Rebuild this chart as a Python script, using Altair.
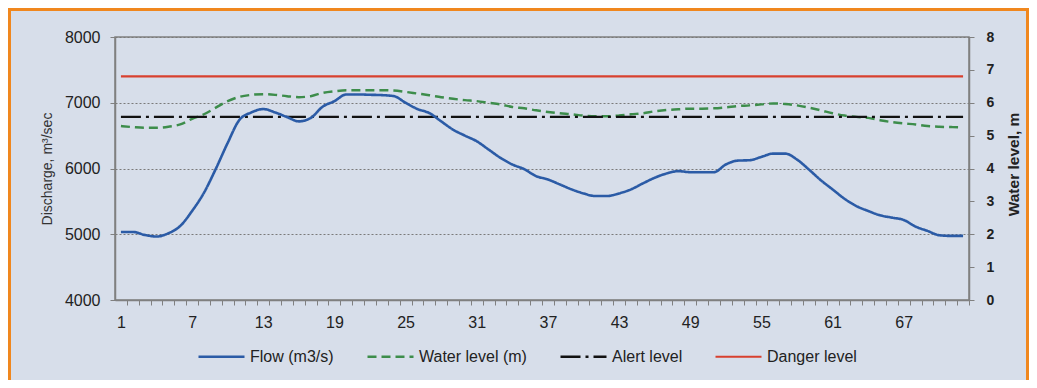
import altair as alt
import pandas as pd

# ---------------- data ----------------
DAYS = list(range(1, 73))
FLOW = [5035, 5035, 4990, 4965, 5015, 5126, 5354, 5631, 5995, 6389,
        6742, 6853, 6904, 6853, 6783, 6717, 6768, 6939, 7025, 7126,
        7126, 7121, 7116, 7101, 7000, 6904, 6843, 6717, 6591, 6500,
        6414, 6288, 6162, 6061, 5990, 5884, 5833, 5758, 5682, 5621,
        5581, 5581, 5621, 5682, 5773, 5859, 5924, 5960, 5944, 5944,
        5944, 6061, 6120, 6126, 6177, 6227, 6227, 6136, 5985, 5823,
        5682, 5540, 5429, 5354, 5288, 5253, 5217, 5116, 5051, 4985,
        4975, 4975]
WATER = [5.29, 5.26, 5.24, 5.24, 5.27, 5.34, 5.51, 5.65, 5.85, 6.05,
         6.18, 6.24, 6.26, 6.24, 6.20, 6.17, 6.20, 6.30, 6.35, 6.38,
         6.38, 6.38, 6.38, 6.37, 6.33, 6.28, 6.23, 6.17, 6.12, 6.08,
         6.05, 6.00, 5.95, 5.87, 5.83, 5.77, 5.72, 5.68, 5.65, 5.61,
         5.59, 5.59, 5.61, 5.65, 5.68, 5.74, 5.78, 5.80, 5.82, 5.82,
         5.83, 5.86, 5.90, 5.92, 5.95, 5.98, 5.96, 5.92, 5.85, 5.77,
         5.68, 5.61, 5.57, 5.54, 5.47, 5.41, 5.37, 5.34, 5.29, 5.27,
         5.26, 5.25]
ALERT_LEVEL = 5.57
DANGER_LEVEL = 6.8

SERIES = ["Flow (m3/s)", "Water level (m)", "Alert level", "Danger level"]
X_LABELS = list(range(1, 73, 6))
Y_LEFT_TICKS = [4000, 5000, 6000, 7000, 8000]
Y_RIGHT_TICKS = list(range(0, 9))

# ---------------- styles ----------------
COLORS = ["#2b5ba6", "#3d8d4b", "#111111", "#d8402f"]
DASHES = [[1, 0], [9, 5], [20, 5, 3, 5], [1, 0]]
WIDTHS = [2.6, 2.2, 3, 2.5]
FONT = "Liberation Sans"
BG = "#D7DEEA"
W, H = 854, 263
PAD = {"left": 107, "top": 29, "right": 60, "bottom": 80}
HALF = W / len(DAYS) / 2

flow_df = pd.DataFrame({"day": DAYS, "value": FLOW, "series": SERIES[0]})
level_df = pd.concat([
    pd.DataFrame({"day": DAYS, "value": WATER, "series": SERIES[1]}),
    pd.DataFrame({"day": [DAYS[0], DAYS[-1]], "value": [ALERT_LEVEL] * 2, "series": SERIES[2]}),
    pd.DataFrame({"day": [DAYS[0], DAYS[-1]], "value": [DANGER_LEVEL] * 2, "series": SERIES[3]}),
], ignore_index=True)

legend = alt.Legend(
    title=None, orient="none", legendX=82, legendY=295, direction="horizontal",
    symbolType="stroke", symbolSize=2116, symbolStrokeWidth=2.5,
    labelFont=FONT, labelFontSize=16, labelColor="#222222", columnPadding=28,
    labelLimit=300,
)
color = alt.Color("series:N", scale=alt.Scale(domain=SERIES, range=COLORS), legend=legend)
dash = alt.StrokeDash("series:N", scale=alt.Scale(domain=SERIES, range=DASHES), legend=legend)
width = alt.StrokeWidth("series:N", scale=alt.Scale(domain=SERIES, range=WIDTHS), legend=None)

x = alt.X(
    "day:Q",
    scale=alt.Scale(domain=[0.5, 72.5], nice=False, zero=False),
    axis=alt.Axis(
        values=DAYS, tickOffset=HALF, labelOffset=-HALF,
        labelExpr="indexof(" + str(X_LABELS) + ", datum.value) >= 0 ? datum.label : ''",
        labelOverlap=False, labelFlush=False, title=None, grid=False,
        tickSize=5, tickColor="#808080", labelPadding=9, labelFont=FONT,
        labelFontSize=16, labelColor="#222222", domainColor="#808080", domainWidth=1.5,
    ),
)

level_layer = alt.Chart(level_df).mark_line(interpolate="monotone").encode(
    x=x,
    y=alt.Y(
        "value:Q",
        scale=alt.Scale(domain=[0, 8], nice=False, zero=False),
        axis=alt.Axis(
            orient="right", values=Y_RIGHT_TICKS, format="d", grid=False,
            tickSize=5, tickColor="#808080", labelPadding=12, labelFont=FONT,
            labelFontSize=14, labelFontWeight="bold", labelColor="#222222",
            domainColor="#808080", domainWidth=1.5,
            title="Water level, m", titleFont=FONT, titleFontSize=15.5,
            titleFontWeight="bold", titleColor="#222222", titleAngle=270,
            titleX=44, titleY=127, titleAlign="center", titleBaseline="middle",
        ),
    ),
    color=color, strokeDash=dash, strokeWidth=width,
    order=alt.Order("day:Q"),
)

flow_layer = alt.Chart(flow_df).mark_line(interpolate="monotone").encode(
    x=x,
    y=alt.Y(
        "value:Q",
        scale=alt.Scale(domain=[4000, 8000], nice=False, zero=False),
        axis=alt.Axis(
            orient="left", values=Y_LEFT_TICKS, format="d", grid=True,
            gridDash=[2, 2], gridColor="#7a7a7a", gridWidth=1,
            tickSize=5, tickColor="#808080", labelPadding=10, labelFont=FONT,
            labelFontSize=16, labelColor="#222222",
            domainColor="#808080", domainWidth=1.5,
            title="Discharge, m³/sec", titleFont=FONT, titleFontSize=14,
            titleFontWeight="normal", titleColor="#333333", titleAngle=270,
            titleX=-68, titleY=131.5, titleAlign="center", titleBaseline="middle",
        ),
    ),
    color=color, strokeDash=dash, strokeWidth=width,
    order=alt.Order("day:Q"),
)

frame_df = pd.DataFrame({"k": [0]})
frame_top = alt.Chart(frame_df).mark_rule(color="#F0871E", strokeWidth=3).encode(
    x=alt.value(-PAD["left"]), x2=alt.value(W + PAD["right"]), y=alt.value(-PAD["top"] + 1.5)
)
frame_left = alt.Chart(frame_df).mark_rule(color="#F0871E", strokeWidth=3).encode(
    x=alt.value(-PAD["left"] + 1.5), y=alt.value(-PAD["top"]), y2=alt.value(H + PAD["bottom"])
)
frame_right = alt.Chart(frame_df).mark_rule(color="#F0871E", strokeWidth=3).encode(
    x=alt.value(W + PAD["right"] - 1.5), y=alt.value(-PAD["top"]), y2=alt.value(H + PAD["bottom"])
)

chart = alt.layer(level_layer, flow_layer, frame_top, frame_left, frame_right).resolve_scale(
    y="independent"
).properties(
    width=W, height=H, background=BG, padding=PAD,
    autosize=alt.AutoSizeParams(type="none"),
).configure_view(
    stroke="#808080", strokeWidth=1.5, fill=BG
)

chart.save("out.html", embed_options={"renderer": "svg", "actions": False})
